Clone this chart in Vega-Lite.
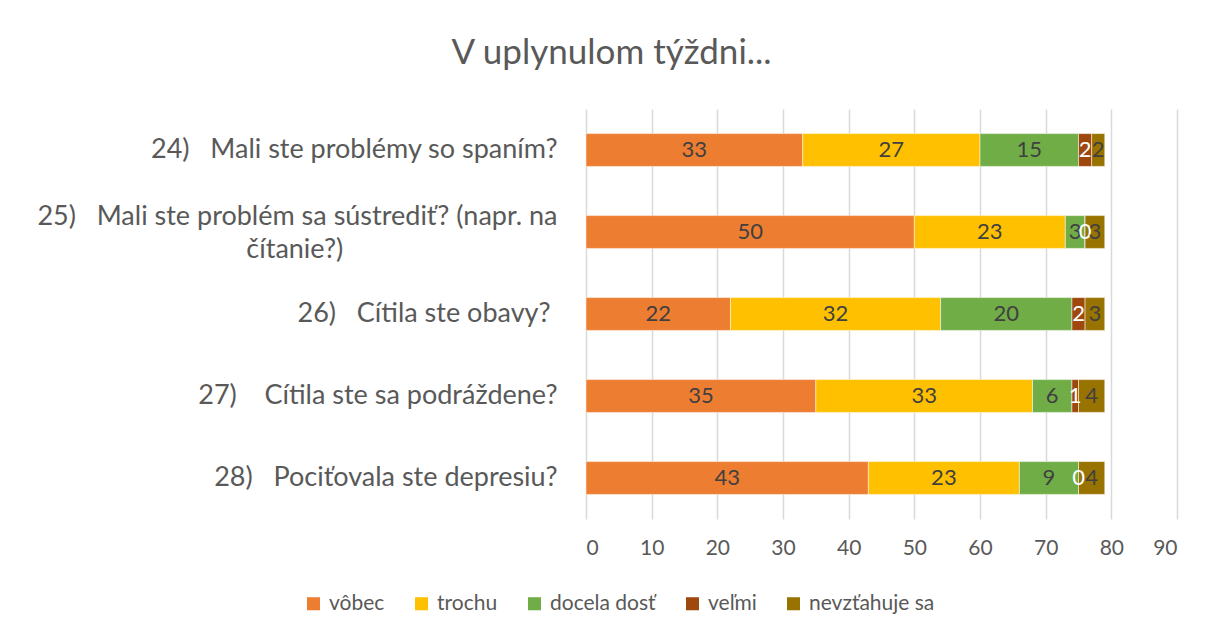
{
  "$schema": "https://vega.github.io/schema/vega-lite/v6.json",
  "width": 591,
  "height": 410,
  "autosize": "none",
  "padding": {"left": 586, "top": 109, "right": 30, "bottom": 117},
  "background": "white",
  "title": {
    "text": "V uplynulom týždni...",
    "font": "Lato",
    "fontSize": 35,
    "fontWeight": "normal",
    "color": "#595959",
    "anchor": "middle",
    "frame": "group",
    "dx": -270,
    "offset": 38
  },
  "data": {
    "values": [
      {"q": "24)\u00a0\u00a0\u00a0Mali ste problémy so spaním?", "cat": "vôbec", "k": 1, "v": 33},
      {"q": "24)\u00a0\u00a0\u00a0Mali ste problémy so spaním?", "cat": "trochu", "k": 2, "v": 27},
      {"q": "24)\u00a0\u00a0\u00a0Mali ste problémy so spaním?", "cat": "docela dosť", "k": 3, "v": 15},
      {"q": "24)\u00a0\u00a0\u00a0Mali ste problémy so spaním?", "cat": "veľmi", "k": 4, "v": 2},
      {"q": "24)\u00a0\u00a0\u00a0Mali ste problémy so spaním?", "cat": "nevzťahuje sa", "k": 5, "v": 2},
      {"q": "25)\u00a0\u00a0\u00a0Mali ste problém sa sústrediť? (napr. na|čítanie?)\u00a0\u00a0\u00a0\u00a0\u00a0\u00a0\u00a0\u00a0\u00a0\u00a0\u00a0\u00a0\u00a0\u00a0\u00a0\u00a0\u00a0\u00a0\u00a0\u00a0\u00a0\u00a0\u00a0\u00a0\u00a0\u00a0\u00a0\u00a0\u00a0\u00a0\u00a0\u200b", "cat": "vôbec", "k": 1, "v": 50},
      {"q": "25)\u00a0\u00a0\u00a0Mali ste problém sa sústrediť? (napr. na|čítanie?)\u00a0\u00a0\u00a0\u00a0\u00a0\u00a0\u00a0\u00a0\u00a0\u00a0\u00a0\u00a0\u00a0\u00a0\u00a0\u00a0\u00a0\u00a0\u00a0\u00a0\u00a0\u00a0\u00a0\u00a0\u00a0\u00a0\u00a0\u00a0\u00a0\u00a0\u00a0\u200b", "cat": "trochu", "k": 2, "v": 23},
      {"q": "25)\u00a0\u00a0\u00a0Mali ste problém sa sústrediť? (napr. na|čítanie?)\u00a0\u00a0\u00a0\u00a0\u00a0\u00a0\u00a0\u00a0\u00a0\u00a0\u00a0\u00a0\u00a0\u00a0\u00a0\u00a0\u00a0\u00a0\u00a0\u00a0\u00a0\u00a0\u00a0\u00a0\u00a0\u00a0\u00a0\u00a0\u00a0\u00a0\u00a0\u200b", "cat": "docela dosť", "k": 3, "v": 3},
      {"q": "25)\u00a0\u00a0\u00a0Mali ste problém sa sústrediť? (napr. na|čítanie?)\u00a0\u00a0\u00a0\u00a0\u00a0\u00a0\u00a0\u00a0\u00a0\u00a0\u00a0\u00a0\u00a0\u00a0\u00a0\u00a0\u00a0\u00a0\u00a0\u00a0\u00a0\u00a0\u00a0\u00a0\u00a0\u00a0\u00a0\u00a0\u00a0\u00a0\u00a0\u200b", "cat": "veľmi", "k": 4, "v": 0},
      {"q": "25)\u00a0\u00a0\u00a0Mali ste problém sa sústrediť? (napr. na|čítanie?)\u00a0\u00a0\u00a0\u00a0\u00a0\u00a0\u00a0\u00a0\u00a0\u00a0\u00a0\u00a0\u00a0\u00a0\u00a0\u00a0\u00a0\u00a0\u00a0\u00a0\u00a0\u00a0\u00a0\u00a0\u00a0\u00a0\u00a0\u00a0\u00a0\u00a0\u00a0\u200b", "cat": "nevzťahuje sa", "k": 5, "v": 3},
      {"q": "26)\u00a0\u00a0\u00a0Cítila ste obavy?\u00a0\u200b", "cat": "vôbec", "k": 1, "v": 22},
      {"q": "26)\u00a0\u00a0\u00a0Cítila ste obavy?\u00a0\u200b", "cat": "trochu", "k": 2, "v": 32},
      {"q": "26)\u00a0\u00a0\u00a0Cítila ste obavy?\u00a0\u200b", "cat": "docela dosť", "k": 3, "v": 20},
      {"q": "26)\u00a0\u00a0\u00a0Cítila ste obavy?\u00a0\u200b", "cat": "veľmi", "k": 4, "v": 2},
      {"q": "26)\u00a0\u00a0\u00a0Cítila ste obavy?\u00a0\u200b", "cat": "nevzťahuje sa", "k": 5, "v": 3},
      {"q": "27)\u00a0\u00a0\u00a0\u00a0Cítila ste sa podráždene?", "cat": "vôbec", "k": 1, "v": 35},
      {"q": "27)\u00a0\u00a0\u00a0\u00a0Cítila ste sa podráždene?", "cat": "trochu", "k": 2, "v": 33},
      {"q": "27)\u00a0\u00a0\u00a0\u00a0Cítila ste sa podráždene?", "cat": "docela dosť", "k": 3, "v": 6},
      {"q": "27)\u00a0\u00a0\u00a0\u00a0Cítila ste sa podráždene?", "cat": "veľmi", "k": 4, "v": 1},
      {"q": "27)\u00a0\u00a0\u00a0\u00a0Cítila ste sa podráždene?", "cat": "nevzťahuje sa", "k": 5, "v": 4},
      {"q": "28)\u00a0\u00a0\u00a0Pociťovala ste depresiu?", "cat": "vôbec", "k": 1, "v": 43},
      {"q": "28)\u00a0\u00a0\u00a0Pociťovala ste depresiu?", "cat": "trochu", "k": 2, "v": 23},
      {"q": "28)\u00a0\u00a0\u00a0Pociťovala ste depresiu?", "cat": "docela dosť", "k": 3, "v": 9},
      {"q": "28)\u00a0\u00a0\u00a0Pociťovala ste depresiu?", "cat": "veľmi", "k": 4, "v": 0},
      {"q": "28)\u00a0\u00a0\u00a0Pociťovala ste depresiu?", "cat": "nevzťahuje sa", "k": 5, "v": 4}
    ]
  },
  "encoding": {
    "y": {
      "field": "q",
      "type": "nominal",
      "sort": null,
      "title": null,
      "scale": {"paddingInner": 0.6, "paddingOuter": 0.3},
      "axis": {
        "domain": false,
        "ticks": false,
        "labelPadding": 29,
        "labelFont": "Lato",
        "labelFontSize": 27,
        "labelColor": "#595959",
        "labelLimit": 700,
        "labelLineHeight": 33,
        "labelOffset": {"condition": {"test": "indexof(datum.value, '|') >= 0", "value": -15}, "value": 0},
        "labelExpr": "split(datum.label, '|')"
      }
    },
    "x": {
      "field": "v",
      "type": "quantitative",
      "stack": "zero",
      "title": null,
      "scale": {"domain": [0, 90]},
      "axis": {
        "values": [0, 10, 20, 30, 40, 50, 60, 70, 80, 90],
        "domain": false,
        "ticks": false,
        "grid": true,
        "gridColor": "#D9D9D9",
        "gridWidth": 1.5,
        "labelPadding": 18,
        "labelFont": "Lato",
        "labelFontSize": 21,
        "labelColor": "#595959"
      }
    },
    "order": {"field": "k", "type": "quantitative"}
  },
  "layer": [
    {
      "mark": {"type": "bar", "stroke": "white", "strokeWidth": 0.5},
      "encoding": {
        "color": {
          "field": "cat",
          "type": "nominal",
          "title": null,
          "scale": {
            "domain": ["vôbec", "trochu", "docela dosť", "veľmi", "nevzťahuje sa"],
            "range": ["#ED7D31", "#FFC000", "#70AD47", "#9E480E", "#997300"]
          },
          "legend": {
            "orient": "none",
            "direction": "horizontal",
            "legendX": -283,
            "legendY": 484,
            "symbolType": "square",
            "symbolSize": 170,
            "symbolStrokeWidth": 0,
            "labelFont": "Lato",
            "labelFontSize": 21,
            "labelColor": "#595959",
            "columnPadding": 26,
            "labelOffset": 5
          }
        }
      }
    },
    {
      "mark": {"type": "text", "font": "Lato", "fontSize": 22, "baseline": "middle", "align": "center"},
      "encoding": {
        "x": {"field": "v", "type": "quantitative", "stack": "zero", "bandPosition": 0.5},
        "text": {"field": "v", "type": "quantitative"},
        "color": {
          "condition": {"test": "datum.cat === 'veľmi'", "value": "white"},
          "value": "#404040"
        }
      }
    }
  ],
  "config": {"view": {"stroke": null}}
}
